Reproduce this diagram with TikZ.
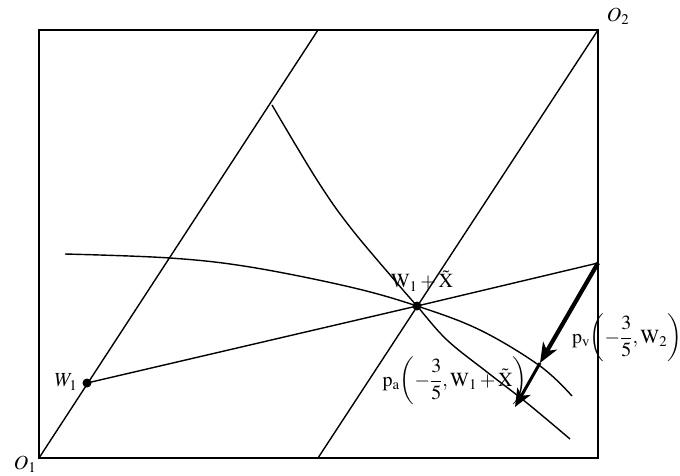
\documentclass[tikz,border=0pt]{standalone}
\usepackage{mathptmx}
\usepackage{fontspec}
\setmainfont{Liberation Serif}
\usetikzlibrary{arrows.meta}
\begin{document}
\begin{tikzpicture}[x=1pt,y=-1pt,
  every node/.style={font=\fontsize{20}{24}\selectfont, inner sep=0pt},
  frame/.style={line width=1.8pt},
  ray/.style={line width=1.4pt},
  curve/.style={line width=1.4pt},
  dotmark/.style={circle, fill=black, minimum size=9pt, inner sep=0pt},
  bigarrow/.style={line width=4.2pt, -{Stealth[length=20pt,width=16pt,inset=6pt]}},
  smallarrow/.style={line width=3pt, -{Stealth[length=18pt,width=15pt,inset=5pt]}}]
\useasboundingbox (0,0) rectangle (680,475);
% corners
\coordinate (O1) at (39,458);
\coordinate (TL) at (39,30);
\coordinate (O2) at (598,30);
\coordinate (BR) at (598,458);
\draw[frame] (O1) -- (TL) -- (O2) -- (BR) -- cycle;
% parallel lines
\coordinate (T1) at (318,30);
\coordinate (B2) at (318,458);
\draw[ray] (O1) -- (T1);
\draw[ray] (B2) -- (O2);
% points
\node[dotmark] (W1) at (87,383) {};
\node[dotmark] (E) at (417,306) {};
\coordinate (R) at (598,263);
\draw[ray] (W1.center) -- (E.center) -- (R);
% curves
\draw[curve] plot[smooth, tension=0.6] coordinates {(65,254) (170,258) (250,267) (350,287) (417,306) (480,330) (540,366) (572,396)};
\draw[curve] plot[smooth, tension=0.6] coordinates {(272,105) (317,180) (350,227) (397,283) (417,306) (447,340) (487,372) (527,403) (570,439)};
% arrows
\coordinate (A1) at (540,363);
\coordinate (A2) at (515,407);
\draw[bigarrow] (R) -- (A1);
\draw[smallarrow] (A1) -- (A2);
% labels
\node (lO1) at (25,464) {$O_1$};
\node (lO2) at (618,16) {$O_2$};
\node (lW1) at (66,382) {$W_1$};
\node (lE) at (422,281) {$\mathrm{W}_1+\tilde{\mathrm{X}}$};
\node (lpa) at (455,381) {$\mathrm{p}_{\mathrm{a}}\!\left(-{\displaystyle\frac{3}{5}},\mathrm{W}_1+\tilde{\mathrm{X}}\right)$};
\node (lpv) at (627,338) {$\mathrm{p}_{\mathrm{v}}\!\left(-{\displaystyle\frac{3}{5}},\mathrm{W}_2\right)$};
\end{tikzpicture}
\end{document}
